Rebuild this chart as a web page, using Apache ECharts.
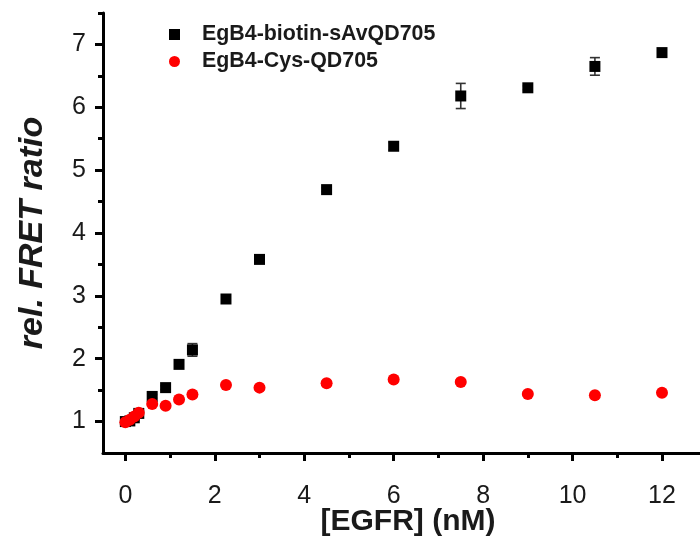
<!DOCTYPE html>
<html>
<head>
<meta charset="utf-8">
<script src="https://cdn.jsdelivr.net/npm/echarts@6/dist/echarts.min.js"></script>
<style>html,body{margin:0;padding:0;background:#fff;}#c{width:700px;height:541px;}</style>
</head>
<body>
<div id="c"></div>
<script>
const xValues = [0, 0.1, 0.2, 0.3, 0.6, 0.9, 1.2, 1.5, 2.25, 3, 4.5, 6, 7.5, 9, 10.5, 12];
const biotinValues = [1.0, 1.01, 1.06, 1.13, 1.40, 1.54, 1.91, 2.14, 2.95, 3.58, 4.69, 5.38, 6.18, 6.31, 6.65, 6.87];
const biotinErrors = [0.02, 0.03, 0.03, 0.04, 0.03, 0.03, 0.03, 0.10, 0.03, 0.04, 0.03, 0.06, 0.20, 0.03, 0.14, 0.03];
const cysValues = [0.99, 1.03, 1.08, 1.14, 1.28, 1.25, 1.35, 1.43, 1.58, 1.54, 1.61, 1.67, 1.63, 1.44, 1.42, 1.46];
const cysErrors = [0.02, 0.03, 0.03, 0.03, 0.03, 0.03, 0.03, 0.03, 0.03, 0.03, 0.03, 0.03, 0.03, 0.03, 0.03, 0.03];
const xTicks = [0, 2, 4, 6, 8, 10, 12];
const xMinorTicks = [1, 3, 5, 7, 9, 11];
const yTicks = [1, 2, 3, 4, 5, 6, 7];
const yMinorTicks = [1.5, 2.5, 3.5, 4.5, 5.5, 6.5, 7.5];
const seriesNames = ['EgB4-biotin-sAvQD705', 'EgB4-Cys-QD705'];

const FONT = '"Liberation Sans", Arial, sans-serif';
const chart = echarts.init(document.getElementById('c'), null, {renderer: 'canvas'});

function errData(vals, errs) {
  return xValues.map((x, i) => [x, vals[i] - errs[i], vals[i] + errs[i]]);
}
function errSeries(vals, errs) {
  return {
    type: 'custom',
    xAxisIndex: 0, yAxisIndex: 0,
    z: 1,
    silent: true,
    data: errData(vals, errs),
    renderItem: function (params, api) {
      const lo = api.coord([api.value(0), api.value(1)]);
      const hi = api.coord([api.value(0), api.value(2)]);
      const hw = 5;
      const st = {stroke: '#333', lineWidth: 1.6};
      return {
        type: 'group',
        children: [
          {type: 'line', shape: {x1: lo[0], y1: lo[1], x2: hi[0], y2: hi[1]}, style: st},
          {type: 'line', shape: {x1: lo[0] - hw, y1: lo[1], x2: lo[0] + hw, y2: lo[1]}, style: st},
          {type: 'line', shape: {x1: hi[0] - hw, y1: hi[1], x2: hi[0] + hw, y2: hi[1]}, style: st}
        ]
      };
    }
  };
}

const xMin = -0.5, xMax = 12.85, yMin = 0.5, yMax = 7.5;

const option = {
  backgroundColor: '#ffffff',
  animation: false,
  grid: {left: 103, right: 0, top: 13, bottom: 88, containLabel: false, outerBoundsMode: 'none'},
  legend: {
    orient: 'vertical',
    left: 164, top: 19,
    itemWidth: 11, itemHeight: 11,
    itemGap: 6,
    data: [
      {name: seriesNames[0], icon: 'rect'},
      {name: seriesNames[1], icon: 'circle'}
    ],
    textStyle: {fontFamily: FONT, fontSize: 21.4, fontWeight: 'bold', color: '#1a1a1a', lineHeight: 21, padding: [0, 0, 0, 17]}
  },
  xAxis: [
    {
      type: 'value', min: xMin, max: xMax, position: 'bottom',
      name: '[EGFR] (nM)', nameLocation: 'middle', nameGap: 54, nameMoveOverlap: false,
      nameTextStyle: {fontFamily: FONT, fontSize: 30, fontWeight: 'bold', color: '#1a1a1a', padding: [0, 0, 0, 13]},
      axisLine: {show: true, onZero: false, lineStyle: {color: '#000', width: 3}},
      axisTick: {show: true, inside: false, length: 8, customValues: xTicks, lineStyle: {color: '#000', width: 3}},
      axisLabel: {show: true, customValues: xTicks, margin: 31, fontFamily: FONT, fontSize: 25, color: '#1a1a1a'},
      splitLine: {show: false}
    },
    {
      type: 'value', min: xMin, max: xMax, position: 'bottom', offset: 0,
      axisLine: {show: false, onZero: false},
      axisTick: {show: true, inside: false, length: 5, customValues: xMinorTicks, lineStyle: {color: '#000', width: 3}},
      axisLabel: {show: false},
      splitLine: {show: false}
    }
  ],
  yAxis: [
    {
      type: 'value', min: yMin, max: yMax, position: 'left',
      name: 'rel. FRET ratio', nameLocation: 'middle', nameGap: 53, nameRotate: 90,
      nameTextStyle: {fontFamily: FONT, fontSize: 34, fontWeight: 'bold', fontStyle: 'italic', color: '#1a1a1a'},
      axisLine: {show: true, onZero: false, lineStyle: {color: '#000', width: 3}},
      axisTick: {show: true, inside: false, length: 8, customValues: yTicks, lineStyle: {color: '#000', width: 3}},
      axisLabel: {show: true, customValues: yTicks, margin: 17, fontFamily: FONT, fontSize: 25, color: '#1a1a1a'},
      splitLine: {show: false}
    },
    {
      type: 'value', min: yMin, max: yMax, position: 'left', offset: 0,
      axisLine: {show: false, onZero: false},
      axisTick: {show: true, inside: false, length: 5, customValues: yMinorTicks, lineStyle: {color: '#000', width: 3}},
      axisLabel: {show: false},
      splitLine: {show: false}
    }
  ],
  series: [
    errSeries(biotinValues, biotinErrors),
    {
      name: seriesNames[0], type: 'scatter', xAxisIndex: 0, yAxisIndex: 0, z: 2,
      symbol: 'rect', symbolSize: 11,
      itemStyle: {color: '#000000', opacity: 1},
      data: xValues.map((x, i) => [x, biotinValues[i]])
    },
    errSeries(cysValues, cysErrors),
    {
      name: seriesNames[1], type: 'scatter', xAxisIndex: 0, yAxisIndex: 0, z: 3,
      symbol: 'circle', symbolSize: 12,
      itemStyle: {color: '#ff0000', opacity: 1},
      data: xValues.map((x, i) => [x, cysValues[i]])
    }
  ]
};
chart.setOption(option);
</script>
</body>
</html>
